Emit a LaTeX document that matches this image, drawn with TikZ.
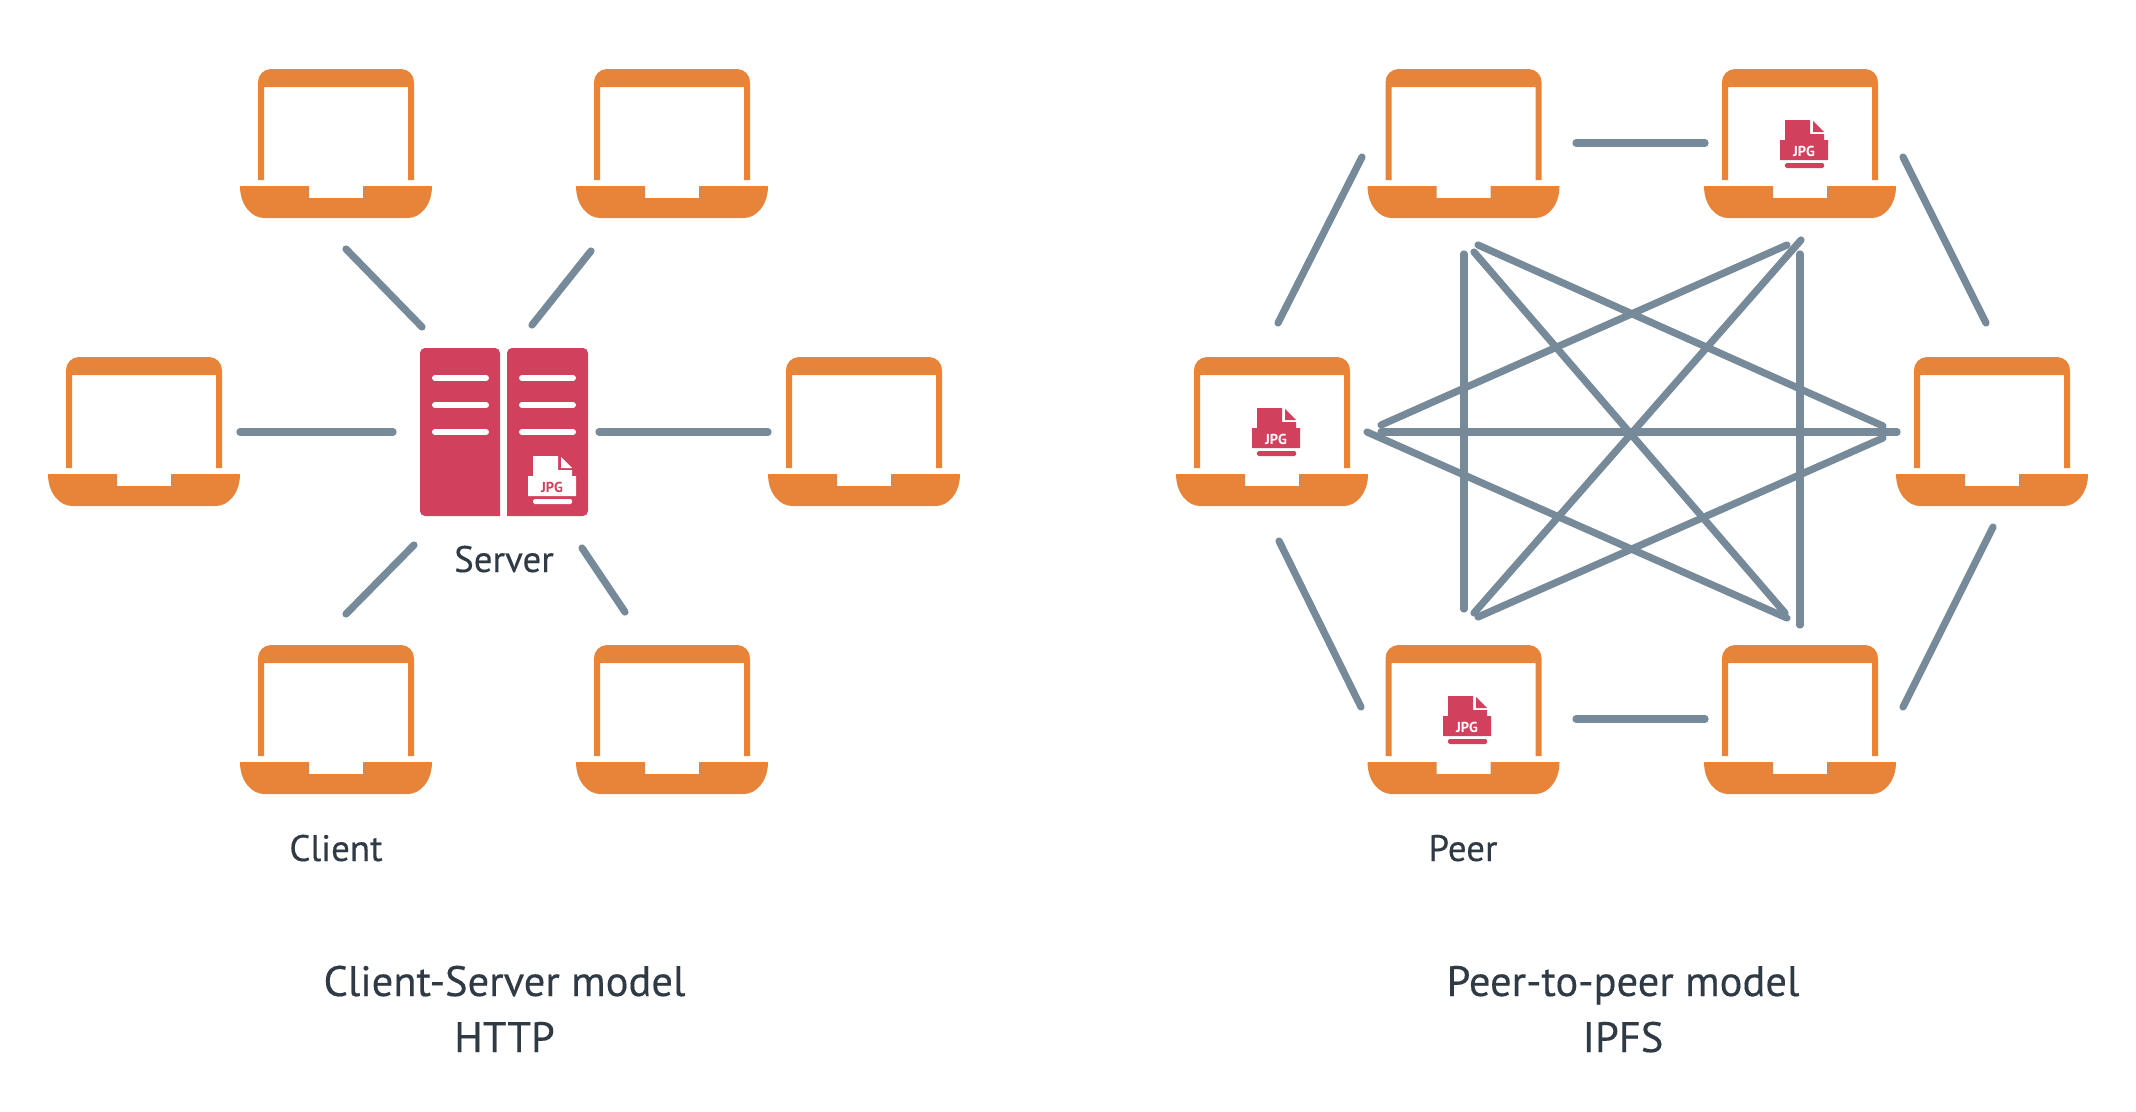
\documentclass[tikz,border=0pt]{standalone}
\usepackage{fontspec}
\setmainfont[FakeBold=0.3]{PT Sans}
\newfontfamily\tagfont[Scale=1]{PT Sans Bold}
\usetikzlibrary{calc}
\definecolor{lapcol}{HTML}{E8833A}
\definecolor{srvcol}{HTML}{D1405C}
\definecolor{linkcol}{HTML}{768A9A}
\definecolor{txtcol}{HTML}{2F3A45}

% laptop outline, origin in the middle of the node
\newcommand{\laptopshape}{
	\fill[lapcol] (-78,36.5) [rounded corners=1.3mm] -- (-78,-74.5) -- (78,-74.5) [sharp corners] -- (78,36.5) -- (72,36.5) -- (72,-56.5) -- (-72,-56.5) -- (-72,36.5) -- cycle;
	\fill[lapcol] (-96,42.5) -- (-27,42.5) -- (-27,54.5) -- (27,54.5) -- (27,42.5) -- (96,42.5)
		.. controls (96,62) and (84,74.5) .. (72,74.5) -- (-72,74.5) .. controls (-84,74.5) and (-96,62) .. (-96,42.5) -- cycle;
}
% file with a folded corner
\newcommand{\jpgshape}[1]{
	\fill[#1] (-19,-24) -- (6,-24) -- (6,-10) -- (20,-10) -- (20,-4) -- (24,-4) -- (24,16) -- (-24,16) -- (-24,-4) -- (-19,-4) -- cycle;
	\fill[#1] (9,-23) -- (9,-12) -- (20,-12) -- cycle;
	\fill[#1,rounded corners=0.15mm] (-19,19) rectangle (20,24);
}

\begin{document}
\begin{tikzpicture}[x=0.01cm,y=-0.01cm]
	\tikzstyle{laptop}=[inner sep=0,outer sep=0,minimum width=1.92cm,minimum height=1.49cm,
		path picture={\begin{scope}[shift={(path picture bounding box.center)}]\laptopshape\end{scope}}]
	\tikzstyle{server}=[inner sep=0,outer sep=0,minimum size=1.68cm,
		path picture={\begin{scope}[shift={(path picture bounding box.center)}]
			\fill[srvcol,rounded corners=0.5mm] (-84,-84) -- (-4,-84) [sharp corners] -- (-4,84) [rounded corners=0.5mm] -- (-84,84) -- cycle;
			\fill[srvcol,rounded corners=0.5mm] (84,-84) -- (3,-84) [sharp corners] -- (3,84) [rounded corners=0.5mm] -- (84,84) -- cycle;
			\foreach \y in {-54,-27,0} {
				\draw[white,line width=0.6mm,line cap=round] (-69,\y) -- (-18,\y);
				\draw[white,line width=0.6mm,line cap=round] (18,\y) -- (69,\y);
			}
		\end{scope}}]
	\tikzstyle{jpgtag}=[inner sep=0,yshift=-0.7mm,font=\tagfont\fontsize{4.1}{4.4}\selectfont]
	\tikzstyle{jpgred}=[inner sep=0,outer sep=0,minimum size=0.5cm,
		label={[jpgtag,text=white]center:JPG},
		path picture={\begin{scope}[shift={(path picture bounding box.center)}]\jpgshape{srvcol}\end{scope}}]
	\tikzstyle{jpgwhite}=[inner sep=0,outer sep=0,minimum size=0.5cm,
		label={[jpgtag,text=srvcol]center:JPG},
		path picture={\begin{scope}[shift={(path picture bounding box.center)}]\jpgshape{white}\end{scope}}]
	\tikzstyle{link}=[draw=linkcol,line width=0.72mm,line cap=round]
	\tikzstyle{caption}=[text=txtcol,inner sep=0,anchor=base,font=\fontsize{10.5}{12}\selectfont]
	\tikzstyle{title}=[text=txtcol,inner sep=0,anchor=base,font=\fontsize{12.1}{14}\selectfont]

	\useasboundingbox (0,0) rectangle (2136,1112);

	% client-server side
	\node[laptop](c1) at (336,143.5) {};
	\node[laptop](c2) at (672,143.5) {};
	\node[laptop](c3) at (144,431.5) {};
	\node[laptop](c4) at (864,431.5) {};
	\node[laptop](c5) at (336,719.5) {};
	\node[laptop](c6) at (672,719.5) {};
	\node[server](srv) at (504,432) {};
	\node[jpgwhite](srvjpg) at (552,480) {};

	\coordinate (c1a) at (346,249); \coordinate (c1b) at (422,327);
	\coordinate (c2a) at (591,251); \coordinate (c2b) at (532,325);
	\coordinate (c3a) at (240,432); \coordinate (c3b) at (393,432);
	\coordinate (c4a) at (768,432); \coordinate (c4b) at (599,432);
	\coordinate (c5a) at (346,614); \coordinate (c5b) at (414,545);
	\coordinate (c6a) at (625,612); \coordinate (c6b) at (582,548);
	\draw[link] (c1a) -- (c1b);
	\draw[link] (c2a) -- (c2b);
	\draw[link] (c3a) -- (c3b);
	\draw[link] (c4a) -- (c4b);
	\draw[link] (c5a) -- (c5b);
	\draw[link] (c6a) -- (c6b);

	\node[caption](srvlabel) at (504,572) {Server};
	\node[caption](clientlabel) at (336,861) {Client};
	\node[title](cstitle) at (504.5,996) {Client-Server model};
	\node[title](cssub) at (504.5,1052) {HTTP};

	% peer-to-peer side
	\node[laptop](p1) at (1463.5,143.5) {};
	\node[laptop](p2) at (1800,143.5) {};
	\node[laptop](p3) at (1272,431.5) {};
	\node[laptop](p4) at (1992,431.5) {};
	\node[laptop](p5) at (1463.5,719.5) {};
	\node[laptop](p6) at (1800,719.5) {};
	\node[jpgred](jpg2) at (1804,144) {};
	\node[jpgred](jpg3) at (1276,432) {};
	\node[jpgred](jpg5) at (1467,720) {};

	% ring
	\coordinate (r1a) at (1362,157); \coordinate (r1b) at (1278,323);
	\coordinate (r2a) at (1576,143); \coordinate (r2b) at (1705,143);
	\coordinate (r3a) at (1903,157); \coordinate (r3b) at (1986,323);
	\coordinate (r4a) at (1993,527); \coordinate (r4b) at (1903,707);
	\coordinate (r5a) at (1576,719); \coordinate (r5b) at (1705,719);
	\coordinate (r6a) at (1279,541); \coordinate (r6b) at (1361,707);
	\draw[link] (r1a) -- (r1b);
	\draw[link] (r2a) -- (r2b);
	\draw[link] (r3a) -- (r3b);
	\draw[link] (r4a) -- (r4b);
	\draw[link] (r5a) -- (r5b);
	\draw[link] (r6a) -- (r6b);

	% star in the middle
	\coordinate (s1a) at (1464,254); \coordinate (s1b) at (1464,609);
	\coordinate (s2a) at (1800,254); \coordinate (s2b) at (1800,625);
	\coordinate (s3a) at (1381,432); \coordinate (s3b) at (1897,432);
	\coordinate (s4a) at (1478,245); \coordinate (s4b) at (1883,426);
	\coordinate (s5a) at (1381,425); \coordinate (s5b) at (1787,245);
	\coordinate (s6a) at (1474,252); \coordinate (s6b) at (1785,613);
	\coordinate (s7a) at (1367,432); \coordinate (s7b) at (1787,618);
	\coordinate (s8a) at (1474,613); \coordinate (s8b) at (1801,240);
	\coordinate (s9a) at (1478,617); \coordinate (s9b) at (1883,438);
	\draw[link] (s1a) -- (s1b);
	\draw[link] (s2a) -- (s2b);
	\draw[link] (s3a) -- (s3b);
	\draw[link] (s4a) -- (s4b);
	\draw[link] (s5a) -- (s5b);
	\draw[link] (s6a) -- (s6b);
	\draw[link] (s7a) -- (s7b);
	\draw[link] (s8a) -- (s8b);
	\draw[link] (s9a) -- (s9b);

	\node[caption](peerlabel) at (1463,861) {Peer};
	\node[title](p2ptitle) at (1623,996) {Peer-to-peer model};
	\node[title](p2psub) at (1623,1052) {IPFS};
\end{tikzpicture}
\end{document}
